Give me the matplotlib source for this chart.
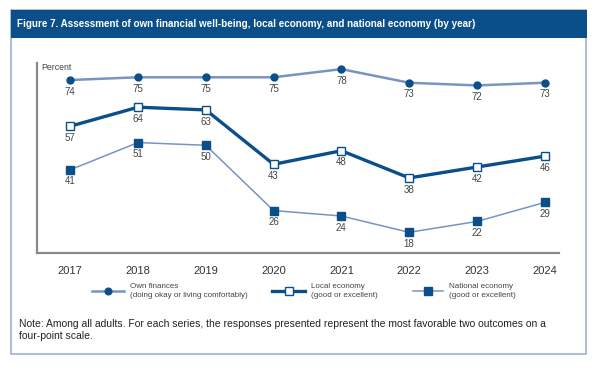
import matplotlib.pyplot as plt
from matplotlib.lines import Line2D
from matplotlib.patches import Rectangle

years = [2017, 2018, 2019, 2020, 2021, 2022, 2023, 2024]
own_finances = [74, 75, 75, 75, 78, 73, 72, 73]
local_economy = [57, 64, 63, 43, 48, 38, 42, 46]
national_economy = [41, 51, 50, 26, 24, 18, 22, 29]

dark = '#0b4f8a'
light = '#7794c2'
grey_txt = '#444444'

plt.rcParams['font.family'] = ['Liberation Sans', 'DejaVu Sans']

fig = plt.figure(figsize=(5.97, 3.71), dpi=100)
W, H = 597, 371

def fx(px):
    return px / W

def fy(py):
    return 1 - py / H

# outer frame and title bar
fig.patches.append(Rectangle((fx(11), fy(354)), fx(586) - fx(11), fy(10) - fy(354),
                             transform=fig.transFigure, facecolor='white',
                             edgecolor='#9db3cf', lw=1.2, zorder=-2))
fig.patches.append(Rectangle((fx(11), fy(38)), fx(587) - fx(11), fy(10) - fy(38),
                             transform=fig.transFigure, facecolor=dark,
                             edgecolor='none', zorder=-1))
fig.text(fx(17), fy(24), 'Figure 7. Assessment of own financial well-being, local economy, and national economy (by year)',
         color='white', fontsize=7.1, fontweight='bold', va='center', ha='left')

ax = fig.add_axes([fx(37), fy(253), fx(559) - fx(37), fy(63) - fy(253)])
ax.set_facecolor('none')

ax.plot(years, own_finances, color=light, lw=1.8, marker='o', ms=5,
        mfc=dark, mec=dark, zorder=3)
ax.plot(years, local_economy, color=dark, lw=2.4, marker='s', ms=5.2,
        mfc='white', mec=dark, mew=1.0, zorder=3)
ax.plot(years, national_economy, color=light, lw=1.1, marker='s', ms=5.5,
        mfc=dark, mec=dark, zorder=3)

for series in (own_finances, local_economy, national_economy):
    for x, v in zip(years, series):
        ax.annotate(str(v), (x, v), xytext=(0, -8.4), textcoords='offset points',
                    ha='center', va='center', fontsize=7, color=grey_txt)

ax.set_xlim(2016.51, 2024.21)
ax.set_ylim(10.4, 80.25)
ax.set_xticks(years)
ax.set_xticklabels([str(y) for y in years], fontsize=8, color='#333333')
ax.tick_params(axis='x', length=0, pad=9)
ax.set_yticks([])
for s in ('top', 'right'):
    ax.spines[s].set_visible(False)
for s in ('left', 'bottom'):
    ax.spines[s].set_color('#8a8a8a')
    ax.spines[s].set_linewidth(1.6)
ax.text(0.008, 0.975, 'Percent', transform=ax.transAxes, fontsize=6.3,
        color=grey_txt, ha='left', va='center')

# legend drawn by hand
legend_items = [
    (92, 124, 'o', 4.8, dark, light, 1.8, 'Own finances\n(doing okay or living comfortably)'),
    (272, 305, 's', 5.3, 'white', dark, 2.4, 'Local economy\n(good or excellent)'),
    (413, 443, 's', 5.8, dark, light, 1.1, 'National economy\n(good or excellent)'),
]
for x0, x1, mk, ms, mfc, lc, lw, label in legend_items:
    fig.add_artist(Line2D([fx(x0), fx(x1)], [fy(291), fy(291)], transform=fig.transFigure,
                          color=lc, lw=lw))
    fig.add_artist(Line2D([fx((x0 + x1) / 2)], [fy(291)], transform=fig.transFigure,
                          marker=mk, ms=ms, mfc=mfc, mec=dark, mew=1.0, ls='none'))
    fig.text(fx(x1 + 6), fy(291), label, fontsize=5.8, color=grey_txt,
             ha='left', va='center', linespacing=1.35)

fig.text(fx(19), fy(330), 'Note: Among all adults. For each series, the responses presented represent the most favorable two outcomes on a\nfour-point scale.',
         fontsize=7.5, color='#222222', ha='left', va='center', linespacing=1.3)

fig.savefig('out.png', dpi=100)
